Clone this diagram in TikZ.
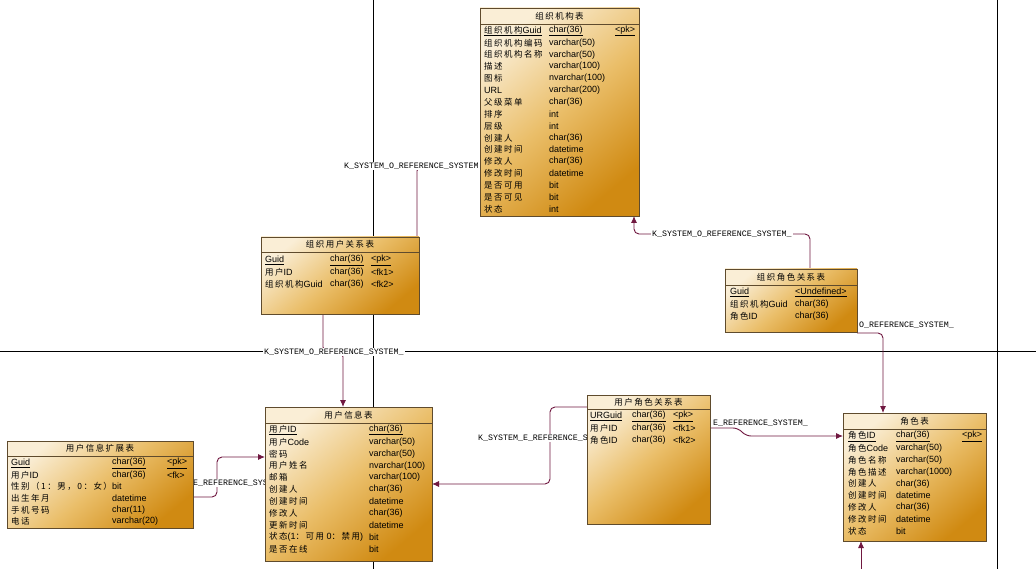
\documentclass[tikz,border=0pt]{standalone}
\usepackage{fontspec}
\setmainfont{Liberation Sans}
\newfontfamily\zhfont[LetterSpace=18,Scale=0.94]{Noto Sans CJK SC}
\newfontfamily\lblfont{Liberation Mono}
\newcommand\zh[1]{{\zhfont #1}}
\usetikzlibrary{arrows.meta}
\definecolor{tabL}{RGB}{250,238,214}
\definecolor{tabM}{RGB}{234,190,105}
\definecolor{tabD}{RGB}{208,138,18}
\definecolor{tabB}{RGB}{95,75,45}
\definecolor{connc}{RGB}{112,24,64}
\tikzset{
 tablebox/.style={draw=tabB, line width=0.8pt, top color=tabL, bottom color=tabD, middle color=tabM, shading angle=40, inner sep=0, outer sep=0},
 cell/.style={anchor=west, inner sep=0, font=\fontsize{9}{10}\selectfont},
 ttl/.style={inner sep=0, font=\fontsize{9}{10}\selectfont},
 connline/.style={draw=connc, line width=0.9pt, rounded corners=5pt},
 arr/.style={-{Latex[length=7pt,width=6pt]}},
 lbl/.style={fill=white, inner sep=1pt, anchor=west, font=\lblfont\fontsize{8.3}{9}\selectfont},
 gridline/.style={draw=black, line width=0.8pt},
 sep/.style={draw=tabB, line width=0.6pt},
}
\begin{document}
\begin{tikzpicture}[x=1pt,y=-1pt]
\fill[white] (0,0) rectangle (1036,569);
\useasboundingbox (0,0) rectangle (1036,569);
% background grid lines
\coordinate (v1t) at (373,0); \coordinate (v1b) at (373,569);
\coordinate (h1l) at (0,351); \coordinate (h1r) at (1036,351);
\coordinate (v2t) at (997,0); \coordinate (v2b) at (997,569);
\draw[gridline] (v1t) -- (v1b);
\draw[gridline] (h1l) -- (h1r);
\draw[gridline] (v2t) -- (v2b);

% table frames (placeholders for anchors)
\path (559.5,112) node[minimum width=159pt, minimum height=208pt, inner sep=0, outer sep=0] (orgT) {};
\path (340,275.5) node[minimum width=158pt, minimum height=77pt, inner sep=0, outer sep=0] (ouT) {};
\path (791,300.5) node[minimum width=132pt, minimum height=63pt, inner sep=0, outer sep=0] (orT) {};
\path (348.5,484) node[minimum width=167pt, minimum height=154pt, inner sep=0, outer sep=0] (userT) {};
\path (100,484.5) node[minimum width=186pt, minimum height=87pt, inner sep=0, outer sep=0] (extT) {};
\path (648.5,459.5) node[minimum width=123pt, minimum height=129pt, inner sep=0, outer sep=0] (urT) {};
\path (914.5,477) node[minimum width=143pt, minimum height=128pt, inner sep=0, outer sep=0] (roleT) {};

% connectors
\draw[connline, arr] ([xshift=77pt]ouT.north) -- (417,166) -- ([yshift=-54pt]orgT.west);
\draw[connline, arr] ([xshift=19pt]orT.north) -- (810,234) -- (634,234) -- ([xshift=74.5pt]orgT.south);
\draw[connline, arr] ([yshift=-1pt]orT.south east) -- (883,333) -- ([xshift=-31.5pt]roleT.north);
\draw[connline, arr] ([xshift=-17pt]ouT.south) -- (323,352) -- (343,352) -- ([xshift=-5.5pt]userT.north);
\draw[connline, arr] ([yshift=52.5pt]urT.west) -- (550,407) -- (550,484) -- (userT.east);
\draw[connline, arr] ([yshift=31.5pt]urT.east) -- (738,428) -- (746,436) -- ([yshift=41pt]roleT.west);
\draw[connline, arr] ([yshift=-12.5pt]extT.east) -- (217,497) -- (217,457) -- ([yshift=27pt]userT.west);
\coordinate (botc) at (861,569);
\draw[connline, arr] (botc) -- ([xshift=-53.5pt]roleT.south);

% connector labels
\node[lbl] (l1) at (343,166) {K\_SYSTEM\_O\_REFERENCE\_SYSTEM};
\node[lbl] (l2) at (651,234) {K\_SYSTEM\_O\_REFERENCE\_SYSTEM\_};
\node[lbl] (l3) at (858,325) {O\_REFERENCE\_SYSTEM\_};
\node[lbl] (l4) at (263,352) {K\_SYSTEM\_O\_REFERENCE\_SYSTEM\_};
\node[lbl] (l5) at (477,438) {K\_SYSTEM\_E\_REFERENCE\_S};
\node[lbl] (l6) at (712,423) {E\_REFERENCE\_SYSTEM\_};
\node[lbl] (l7) at (192,483) {E\_REFERENCE\_SYS};

% ---------- 组织机构表 ----------
\shade[tablebox] (orgT.north west) rectangle (orgT.south east);
\draw[tabB, line width=0.8pt] (orgT.north west) rectangle (orgT.south east);
\draw[sep] ([yshift=-16pt]orgT.north west) -- ([yshift=-16pt]orgT.north east);
\node[ttl] (orgTt) at (559.5,16) {\zh{组织机构表}};
\node[cell] (o1a) at (484,31) {\underline{\zh{组织机构}Guid}};
\node[cell] (o1b) at (549,31) {\underline{char(36)}};
\node[cell] (o1c) at (615,31) {\underline{<pk>}};
\node[cell] (o2a) at (484,42.9) {\zh{组织机构编码}};
\node[cell] (o2b) at (549,42.9) {varchar(50)};
\node[cell] (o3a) at (484,54.7) {\zh{组织机构名称}};
\node[cell] (o3b) at (549,54.7) {varchar(50)};
\node[cell] (o4a) at (484,66.6) {\zh{描述}};
\node[cell] (o4b) at (549,66.6) {varchar(100)};
\node[cell] (o5a) at (484,78.5) {\zh{图标}};
\node[cell] (o5b) at (549,78.5) {nvarchar(100)};
\node[cell] (o6a) at (484,90.4) {URL};
\node[cell] (o6b) at (549,90.4) {varchar(200)};
\node[cell] (o7a) at (484,102.2) {\zh{父级菜单}};
\node[cell] (o7b) at (549,102.2) {char(36)};
\node[cell] (o8a) at (484,114.1) {\zh{排序}};
\node[cell] (o8b) at (549,114.1) {int};
\node[cell] (o9a) at (484,126) {\zh{层级}};
\node[cell] (o9b) at (549,126) {int};
\node[cell] (o10a) at (484,137.8) {\zh{创建人}};
\node[cell] (o10b) at (549,137.8) {char(36)};
\node[cell] (o11a) at (484,149.7) {\zh{创建时间}};
\node[cell] (o11b) at (549,149.7) {datetime};
\node[cell] (o12a) at (484,161.6) {\zh{修改人}};
\node[cell] (o12b) at (549,161.6) {char(36)};
\node[cell] (o13a) at (484,173.4) {\zh{修改时间}};
\node[cell] (o13b) at (549,173.4) {datetime};
\node[cell] (o14a) at (484,185.3) {\zh{是否可用}};
\node[cell] (o14b) at (549,185.3) {bit};
\node[cell] (o15a) at (484,197.2) {\zh{是否可见}};
\node[cell] (o15b) at (549,197.2) {bit};
\node[cell] (o16a) at (484,209) {\zh{状态}};
\node[cell] (o16b) at (549,209) {int};

% ---------- 组织用户关系表 ----------
\shade[tablebox] (ouT.north west) rectangle (ouT.south east);
\draw[tabB, line width=0.8pt] (ouT.north west) rectangle (ouT.south east);
\draw[sep] ([yshift=-15pt]ouT.north west) -- ([yshift=-15pt]ouT.north east);
\node[ttl] (ouTt) at (340,244.5) {\zh{组织用户关系表}};
\node[cell] (u1a) at (265,260.5) {\underline{Guid}};
\node[cell] (u1b) at (330,260.5) {\underline{char(36)}};
\node[cell] (u1c) at (371,260.5) {\underline{<pk>}};
\node[cell] (u2a) at (265,272.3) {\zh{用户}ID};
\node[cell] (u2b) at (330,272.3) {char(36)};
\node[cell] (u2c) at (371,272.3) {<fk1>};
\node[cell] (u3a) at (265,284) {\zh{组织机构}Guid};
\node[cell] (u3b) at (330,284) {char(36)};
\node[cell] (u3c) at (371,284) {<fk2>};

% ---------- 组织角色关系表 ----------
\shade[tablebox] (orT.north west) rectangle (orT.south east);
\draw[tabB, line width=0.8pt] (orT.north west) rectangle (orT.south east);
\draw[sep] ([yshift=-16pt]orT.north west) -- ([yshift=-16pt]orT.north east);
\node[ttl] (orTt) at (791,277) {\zh{组织角色关系表}};
\node[cell] (r1a) at (730,292.5) {\underline{Guid}};
\node[cell] (r1b) at (795,292.5) {\underline{<Undefined>}};
\node[cell] (r2a) at (730,304.3) {\zh{组织机构}Guid};
\node[cell] (r2b) at (795,304.3) {char(36)};
\node[cell] (r3a) at (730,316) {\zh{角色}ID};
\node[cell] (r3b) at (795,316) {char(36)};

% ---------- 用户信息表 ----------
\shade[tablebox] (userT.north west) rectangle (userT.south east);
\draw[tabB, line width=0.8pt] (userT.north west) rectangle (userT.south east);
\draw[sep] ([yshift=-16pt]userT.north west) -- ([yshift=-16pt]userT.north east);
\node[ttl] (userTt) at (348.5,415) {\zh{用户信息表}};
\node[cell] (s1a) at (269,430) {\underline{\zh{用户}ID}};
\node[cell] (s1b) at (369,430) {\underline{char(36)}};
\node[cell] (s2a) at (269,441.9) {\zh{用户}Code};
\node[cell] (s2b) at (369,441.9) {varchar(50)};
\node[cell] (s3a) at (269,453.8) {\zh{密码}};
\node[cell] (s3b) at (369,453.8) {varchar(50)};
\node[cell] (s4a) at (269,465.7) {\zh{用户姓名}};
\node[cell] (s4b) at (369,465.7) {nvarchar(100)};
\node[cell] (s5a) at (269,477.6) {\zh{邮箱}};
\node[cell] (s5b) at (369,477.6) {varchar(100)};
\node[cell] (s6a) at (269,489.5) {\zh{创建人}};
\node[cell] (s6b) at (369,489.5) {char(36)};
\node[cell] (s7a) at (269,501.4) {\zh{创建时间}};
\node[cell] (s7b) at (369,501.4) {datetime};
\node[cell] (s8a) at (269,513.3) {\zh{修改人}};
\node[cell] (s8b) at (369,513.3) {char(36)};
\node[cell] (s9a) at (269,525.2) {\zh{更新时间}};
\node[cell] (s9b) at (369,525.2) {datetime};
\node[cell] (s10a) at (269,537.1) {\zh{状态}(1\zh{：可用} 0\zh{：禁用})};
\node[cell] (s10b) at (369,537.1) {bit};
\node[cell] (s11a) at (269,549) {\zh{是否在线}};
\node[cell] (s11b) at (369,549) {bit};

% ---------- 用户信息扩展表 ----------
\shade[tablebox] (extT.north west) rectangle (extT.south east);
\draw[tabB, line width=0.8pt] (extT.north west) rectangle (extT.south east);
\draw[sep] ([yshift=-15pt]extT.north west) -- ([yshift=-15pt]extT.north east);
\node[ttl] (extTt) at (100,448.5) {\zh{用户信息扩展表}};
\node[cell] (e1a) at (11,463.5) {\underline{Guid}};
\node[cell] (e1b) at (112,463.5) {\underline{char(36)}};
\node[cell] (e1c) at (167,463.5) {\underline{<pk>}};
\node[cell] (e2a) at (11,475.1) {\zh{用户}ID};
\node[cell] (e2b) at (112,475.1) {char(36)};
\node[cell] (e2c) at (167,475.1) {<fk>};
\node[cell] (e3a) at (11,486.7) {\zh{性别（1：男，0：女）}};
\node[cell] (e3b) at (112,486.7) {bit};
\node[cell] (e4a) at (11,498.3) {\zh{出生年月}};
\node[cell] (e4b) at (112,498.3) {datetime};
\node[cell] (e5a) at (11,509.9) {\zh{手机号码}};
\node[cell] (e5b) at (112,509.9) {char(11)};
\node[cell] (e6a) at (11,521.5) {\zh{电话}};
\node[cell] (e6b) at (112,521.5) {varchar(20)};

% ---------- 用户角色关系表 ----------
\shade[tablebox] (urT.north west) rectangle (urT.south east);
\draw[tabB, line width=0.8pt] (urT.north west) rectangle (urT.south east);
\draw[sep] ([yshift=-14pt]urT.north west) -- ([yshift=-14pt]urT.north east);
\node[ttl] (urTt) at (648.5,402) {\zh{用户角色关系表}};
\node[cell] (g1a) at (590,416.5) {\underline{URGuid}};
\node[cell] (g1b) at (632,416.5) {\underline{char(36)}};
\node[cell] (g1c) at (673,416.5) {\underline{<pk>}};
\node[cell] (g2a) at (590,428.3) {\zh{用户}ID};
\node[cell] (g2b) at (632,428.3) {char(36)};
\node[cell] (g2c) at (673,428.3) {<fk1>};
\node[cell] (g3a) at (590,440) {\zh{角色}ID};
\node[cell] (g3b) at (632,440) {char(36)};
\node[cell] (g3c) at (673,440) {<fk2>};

% ---------- 角色表 ----------
\shade[tablebox] (roleT.north west) rectangle (roleT.south east);
\draw[tabB, line width=0.8pt] (roleT.north west) rectangle (roleT.south east);
\draw[sep] ([yshift=-16pt]roleT.north west) -- ([yshift=-16pt]roleT.north east);
\node[ttl] (roleTt) at (914.5,421) {\zh{角色表}};
\node[cell] (j1a) at (848,436.5) {\underline{\zh{角色}ID}};
\node[cell] (j1b) at (896,436.5) {\underline{char(36)}};
\node[cell] (j1c) at (962,436.5) {\underline{<pk>}};
\node[cell] (j2a) at (848,448.3) {\zh{角色}Code};
\node[cell] (j2b) at (896,448.3) {varchar(50)};
\node[cell] (j3a) at (848,460.1) {\zh{角色名称}};
\node[cell] (j3b) at (896,460.1) {varchar(50)};
\node[cell] (j4a) at (848,471.9) {\zh{角色描述}};
\node[cell] (j4b) at (896,471.9) {varchar(1000)};
\node[cell] (j5a) at (848,483.7) {\zh{创建人}};
\node[cell] (j5b) at (896,483.7) {char(36)};
\node[cell] (j6a) at (848,495.5) {\zh{创建时间}};
\node[cell] (j6b) at (896,495.5) {datetime};
\node[cell] (j7a) at (848,507.3) {\zh{修改人}};
\node[cell] (j7b) at (896,507.3) {char(36)};
\node[cell] (j8a) at (848,519.1) {\zh{修改时间}};
\node[cell] (j8b) at (896,519.1) {datetime};
\node[cell] (j9a) at (848,530.9) {\zh{状态}};
\node[cell] (j9b) at (896,530.9) {bit};
\end{tikzpicture}
\end{document}
